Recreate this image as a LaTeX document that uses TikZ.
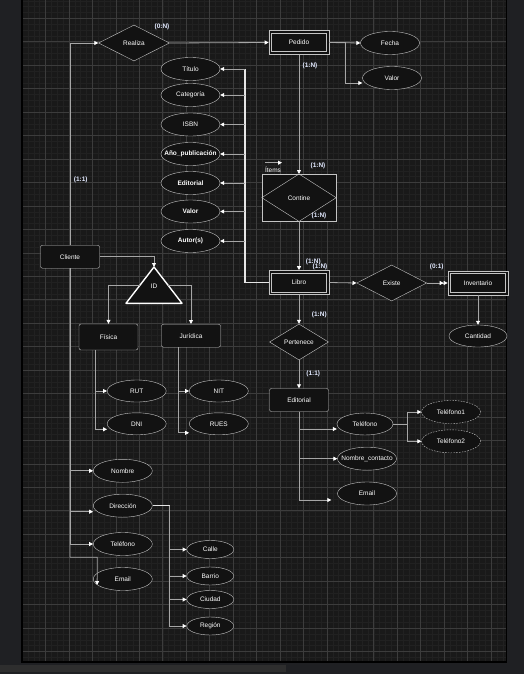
\documentclass[tikz,border=0pt]{standalone}
\usepackage{fontspec}
\setmainfont{Liberation Sans}
\usetikzlibrary{calc,arrows.meta,positioning,shapes.geometric}
\definecolor{canvasbg}{HTML}{191919}
\definecolor{outerbg}{HTML}{1F2023}
\definecolor{gridmaj}{HTML}{3C3C3C}
\definecolor{gridmin}{HTML}{212121}
\definecolor{nodefill}{HTML}{121212}
\definecolor{nodeline}{HTML}{C4C4C4}
\definecolor{edgegray}{HTML}{A6A6A6}
\definecolor{cardtext}{HTML}{E2E9FF}

\begin{document}
\begin{tikzpicture}[x=1pt,y=-1pt,font=\fontsize{6.5}{7.5}\selectfont,text=white]

\tikzset{entnode/.style={draw=nodeline,fill=nodefill,rounded corners=2pt,minimum width=59pt,minimum height=23pt,inner sep=0pt},
weaknode/.style={draw=nodeline,line width=0.7pt,fill=nodefill,minimum width=60pt,minimum height=24pt,inner sep=0pt},
relnode/.style={diamond,draw=nodeline,fill=nodefill,minimum width=71pt,minimum height=36pt,inner sep=0pt},
attrnode/.style={ellipse,draw=nodeline,fill=nodefill,minimum width=59pt,minimum height=23pt,inner sep=0pt},
subattr/.style={attrnode,minimum width=47pt,minimum height=18pt},
multiattr/.style={attrnode,dash pattern=on 1.6pt off 1.2pt},
cardlbl/.style={text=cardtext,font=\fontsize{6.5}{7.5}\selectfont\bfseries,inner sep=0pt},
conn/.style={draw=edgegray,line width=0.8pt,-{Triangle[length=4pt,width=4pt,color=white]}},
dconn/.style={conn,-{Triangle[length=4pt,width=4pt,color=white]Triangle[length=4pt,width=4pt,color=white]}},
busline/.style={draw=white!90!black,line width=1.2pt}}

% Canvas
\useasboundingbox (0,0) rectangle (524,674);
\fill[outerbg] (0,0) rectangle (524,674);
\fill[canvasbg] (22,0) rectangle (506.5,662);
\begin{scope}
\clip (22,0) rectangle (506.5,662);
\foreach \i in {0,...,83} \draw[gridmin,line width=0.4pt] ({22+\i*5.8625},0) -- ++(0,662);
\foreach \i in {-3,...,110} \draw[gridmin,line width=0.4pt] (22,{18.3+\i*5.8625}) -- ++(485,0);
\foreach \i in {0,...,20} \draw[gridmaj,line width=0.6pt] ({22+\i*23.45},0) -- ++(0,662); % major lines
\foreach \i in {0,...,27} \draw[gridmaj,line width=0.6pt] (22,{18.3+\i*23.45}) -- ++(485,0);
\end{scope}
\draw[black,line width=1.2pt] (22,0) -- (22,662) -- (506.5,662) -- (506.5,0);
\fill[black!82] (0,665) rectangle (286,672);

% Entities
\node[weaknode] (pedido) at (299,42.5) {Pedido};
\node[weaknode] (libro) at (299,282.5) {Libro};
\node[weaknode] (inventario) at (478,283) {Inventario};
\foreach \e in {pedido,libro,inventario} % inner border
  \draw[nodeline,line width=0.7pt] ([xshift=3pt,yshift=-3pt]\e.north west) rectangle ([xshift=-3pt,yshift=3pt]\e.south east);
\node[entnode] (cliente) at (70,256.7) {Cliente};
\node[entnode,minimum height=26pt] (fisica) at (108.5,337) {Física};
\node[entnode] (juridica) at (191,335.7) {Jurídica};
\node[entnode] (editorial) at (299,400) {Editorial};

% Relations
\node[relnode] (realiza) at (134,43) {Realiza};
\node[relnode,minimum width=70pt] (existe) at (391.7,283) {Existe};
\node[relnode,minimum width=59pt] (pertenece) at (299,342) {Pertenece};
\node[draw=nodeline,fill=nodefill,minimum width=74pt,minimum height=47pt,inner sep=0pt] (contine) at (299,197.7) {};
\draw[nodeline] (contine.north) -- (contine.east) -- (contine.south) -- (contine.west) -- cycle;
\node (contineLbl) at (contine.center) {Contine};

% Attributes of Pedido and Inventario
\node[attrnode] (fecha) at (390,43) {Fecha};
\node[attrnode] (valorP) at (392,78) {Valor};
\node[attrnode,minimum width=58pt,minimum height=22pt] (cantidad) at (478,336) {Cantidad};

% Attributes of Libro
\foreach \n/\t/\y in {titulo/Título/69, categoria/Categoría/95, isbn/ISBN/124.5,
  anio/{\makebox[0pt]{\bfseries Año\_publicación}}/154, editorialA/{\bfseries Editorial}/183,
  valorL/{\bfseries Valor}/211.5, autor/{\bfseries Autor(s)}/241}
  \node[attrnode] (\n) at (190.5,\y) {\t};

% Attributes of Cliente
\foreach \n/\t/\y in {nombre/Nombre/470.8, direccion/Dirección/505.7, telefonoC/Teléfono/544, emailC/Email/579}
  \node[attrnode] (\n) at (122.8,\y) {\t};
\foreach \n/\t/\y in {calle/Calle/549.5, barrio/Barrio/576, ciudad/Ciudad/599.5, region/Región/626}
  \node[subattr] (\n) at (210.3,\y) {\t};
\node[attrnode,minimum height=22pt] (rut) at (136.7,391) {RUT};
\node[attrnode,minimum height=22pt] (dni) at (136.7,423.8) {DNI};
\node[attrnode,minimum height=22pt] (nit) at (218.8,391) {NIT};
\node[attrnode,minimum height=22pt] (rues) at (218.8,423.8) {RUES};

% Attributes of Editorial
\node[attrnode,minimum width=56pt,minimum height=22pt] (telE) at (365,424) {Teléfono};
\node[attrnode] (nomContacto) at (367,458.7) {\makebox[0pt]{Nombre\_contacto}};
\node[attrnode] (emailE) at (367,493.5) {Email};
\node[multiattr] (tel1) at (451,412) {Teléfono1};
\node[multiattr] (tel2) at (451,441.3) {Teléfono2};

% ID triangle
\coordinate (idApex) at (154,267);
\coordinate (idBL) at (126,303.3);
\coordinate (idBR) at (182,303.3);
\draw[white,line width=1.4pt,fill=nodefill,line join=round] (idApex) -- (idBR) -- (idBL) -- cycle;
\node (idlbl) at (154,286) {ID};

% Cliente - Realiza - Pedido
\draw[conn] (cliente.north) |- (realiza.west);
\draw[conn] (realiza.east) -- (pedido.west);
\draw[conn] (pedido.east) -- (fecha.west);
\draw[conn] (pedido.east) -- ++(16.5,0) |- ([yshift=-5pt]valorP.west);

% Pedido - Contine - Libro
\draw[conn] (pedido.south) -- (contine.north);
\draw[conn] (contine.south) -- (libro.north);
\node (items) at (273,169.5) {Ítems};
\coordinate (itemsA) at (265,162.7);
\coordinate (itemsB) at (282,162.7);
\draw[conn] (itemsA) -- (itemsB);

% Libro attributes
\coordinate (busTop) at (245,69);
\draw[busline] (libro.west) -| (busTop);
\foreach \n in {titulo,categoria,isbn,anio,editorialA,valorL,autor} \draw[conn] (busTop |- \n.east) -- (\n.east);

% Libro - Existe - Inventario
\draw[conn] (libro.east) -- (existe.west);
\draw[dconn] (existe.east) -- (inventario.west);
\draw[conn] (inventario.south) -- (cantidad.north);

% Libro - Pertenece - Editorial
\draw[conn] (libro.south) -- (pertenece.north);
\draw[conn] (pertenece.south) -- (editorial.north);
\draw[conn] (editorial.south) |- ([yshift=-5pt]telE.west);
\draw[conn] (editorial.south) |- (nomContacto.west);
\draw[conn] (editorial.south) |- ([xshift=-6pt,yshift=-6.5pt]emailE.west);
\coordinate (telSplit) at ($(telE.east)+(14.5,0)$);
\draw[draw=edgegray,line width=0.8pt] (telE.east) -- (telSplit);
\draw[conn] (telSplit) |- (tel1.west);
\draw[conn] (telSplit) |- (tel2.west);

% Cliente - ID - Fisica/Juridica
\draw[conn] (cliente.east) -| (idApex);
\draw[conn] ($(idApex)!0.5!(idBL)$) -| (fisica.north);
\draw[conn] ($(idApex)!0.5!(idBR)$) -| (juridica.north);
\coordinate (fisTrunk) at ([xshift=-13.5pt]fisica.south);
\draw[conn] (fisTrunk) |- (rut.west);
\draw[conn] (fisTrunk) |- ([yshift=-5.5pt]dni.west);
\coordinate (jurTrunk) at ([xshift=-12.7pt]juridica.south);
\draw[conn] (jurTrunk) |- (nit.west);
\draw[conn] (jurTrunk) |- ([yshift=-9pt]rues.west);

% Cliente attributes
\coordinate (emailBend) at (97.3,557.3);
\draw[conn] (cliente.south) |- (nombre.west);
\draw[conn] (cliente.south) |- ([yshift=-6pt]direccion.west);
\draw[conn] (cliente.south) |- (telefonoC.west);
\draw[conn] (cliente.south) |- (emailBend) -- ([xshift=4pt,yshift=-6pt]emailC.west);
\coordinate (dirSplit) at ($(direccion.east)+(17,0)$);
\draw[draw=white!90!black,line width=0.9pt] (direccion.east) -- (dirSplit);
\foreach \n in {calle,barrio,ciudad,region} \draw[conn] (dirSplit) |- (\n.west);

% Cardinalities
\node[cardlbl] (cardRealiza) at (162,27.3) {(0:N)};
\node[cardlbl] (cardPedido) at (310,66) {(1:N)};
\node[cardlbl] (cardContA) at (318,165.7) {(1:N)};
\node[cardlbl] (cardContB) at (319,216) {(1:N)};
\node[cardlbl] (cardLibroA) at (313.3,262.3) {(1:N)};
\node[cardlbl] (cardLibroB) at (320,267.3) {(1:N)};
\node[cardlbl] (cardInv) at (436.7,267.3) {(0:1)};
\node[cardlbl] (cardPert) at (319.3,315) {(1:N)};
\node[cardlbl] (cardEdit) at (313.3,374) {(1:1)};
\node[cardlbl] (cardCliente) at (80.7,180) {(1:1)};

\end{tikzpicture}
\end{document}
